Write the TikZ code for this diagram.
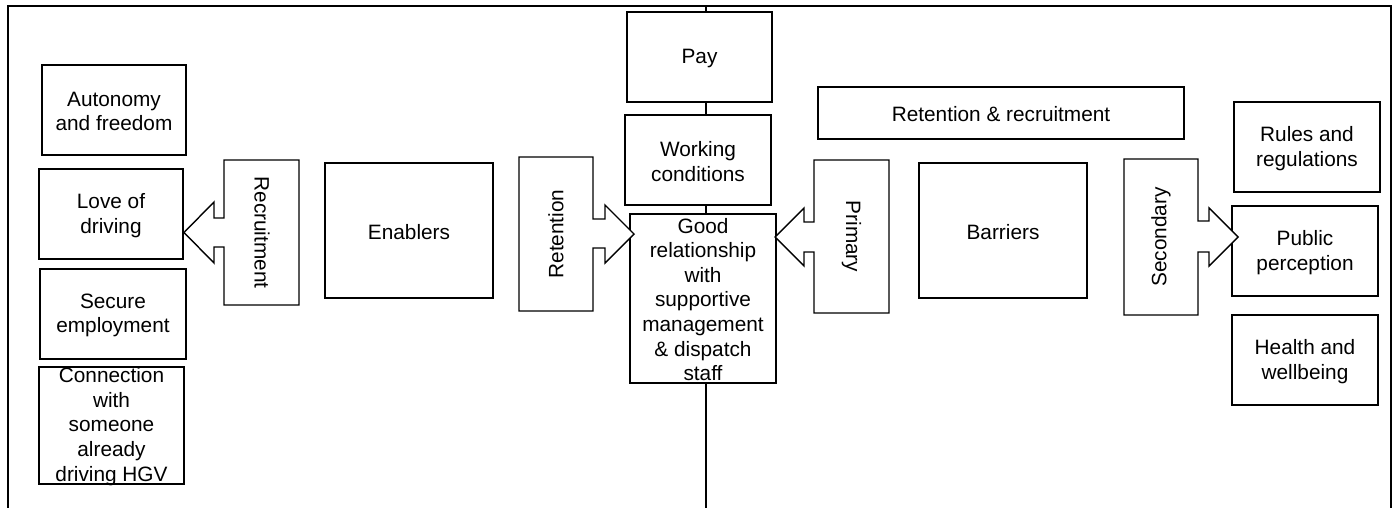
\documentclass[tikz,border=0pt]{standalone}
\usepackage{fontspec}
\setmainfont{Liberation Sans}
\begin{document}
\begin{tikzpicture}[x=1pt,y=-1pt,
  box/.style={draw=black,line width=1.4pt,fill=white,rectangle,inner sep=0pt},
  txt/.style={inner sep=0pt,align=center,font=\fontsize{20.8}{24.6}\selectfont},
  callout/.style={draw=black,line width=1.4pt,line join=miter,fill=white}]
\useasboundingbox (0,0) rectangle (1396,508);
% frame
\coordinate (fbl) at (8,508);
\coordinate (ftl) at (8,6);
\coordinate (ftr) at (1391,6);
\coordinate (fbr) at (1391,508);
\draw[line width=1.4pt] (fbl) -- (ftl) -- (ftr) -- (fbr);
\coordinate (ctop) at (706,6);
\coordinate (cbot) at (706,508);
% left column
\node[box,minimum width=144pt,minimum height=90pt] (autonomy) at (114,110) {};
\node[txt] (autonomyT) at ([yshift=-1.5pt]autonomy.center) {Autonomy\\and freedom};
\node[box,minimum width=144pt,minimum height=90pt] (love) at (111,214) {};
\node[txt] (loveT) at ([yshift=-1.5pt]love.center) {Love of\\driving};
\node[box,minimum width=146pt,minimum height=90pt] (secure) at (113,314) {};
\node[txt] (secureT) at ([yshift=-1.5pt]secure.center) {Secure\\employment};
\node[box,minimum width=145pt,minimum height=117pt] (conn) at (111.5,425.5) {};
\node[txt] (connT) at ([yshift=-1pt]conn.center) {Connection\\with\\someone\\already\\driving HGV};
% enablers
\node[box,minimum width=168pt,minimum height=135pt] (enablers) at (409,230.5) {};
\node[txt] (enablersT) at ([yshift=-1.5pt]enablers.center) {Enablers};
% centre column
\node[box,minimum width=145pt,minimum height=90pt] (pay) at (699.5,57) {};
\node[txt] (payT) at ([yshift=-1.5pt]pay.center) {Pay};
\node[box,minimum width=146pt,minimum height=90pt] (work) at (698,160) {};
\node[txt] (workT) at ([yshift=-1.5pt]work.center) {Working\\conditions};
\node[box,minimum width=146pt,minimum height=169pt] (good) at (703,298.5) {};
\node[txt] (goodT) at ([yshift=-1pt]good.center) {Good\\relationship\\with\\supportive\\management\\\& dispatch\\staff};
\draw[line width=1.4pt] (ctop) -- (ctop |- pay.north);
\draw[line width=1.4pt] (pay.south -| ctop) -- (work.north -| ctop);
\draw[line width=1.4pt] (work.south -| ctop) -- (good.north -| ctop);
\draw[line width=1.4pt] (good.south -| ctop) -- (cbot);
% right side
\node[box,minimum width=366pt,minimum height=52pt] (retrec) at (1001,113) {};
\node[txt] (retrecT) at ([yshift=-1.5pt]retrec.center) {Retention \& recruitment};
\node[box,minimum width=168pt,minimum height=135pt] (barriers) at (1003,230.5) {};
\node[txt] (barriersT) at ([yshift=-1.5pt]barriers.center) {Barriers};
\node[box,minimum width=146pt,minimum height=90pt] (rules) at (1307,147) {};
\node[txt] (rulesT) at ([yshift=-1.5pt]rules.center) {Rules and\\regulations};
\node[box,minimum width=146pt,minimum height=90pt] (public) at (1305,251) {};
\node[txt] (publicT) at ([yshift=-1.5pt]public.center) {Public\\perception};
\node[box,minimum width=146pt,minimum height=90pt] (health) at (1305,360) {};
\node[txt] (healthT) at ([yshift=-1.5pt]health.center) {Health and\\wellbeing};
% callout arrows
\draw[callout] (299,160) -- (224,160) -- (224,218) -- (214,218) -- (214,202) -- (184,232.5) -- (214,263) -- (214,247) -- (224,247) -- (224,305) -- (299,305) -- cycle;
\node[txt,rotate=-90] (recruitT) at (262,232.5) {Recruitment};
\draw[callout] (519,157) -- (593,157) -- (593,219) -- (605,219) -- (605,205) -- (634,234) -- (605,263) -- (605,248) -- (593,248) -- (593,311) -- (519,311) -- cycle;
\node[txt,rotate=90] (retentionT) at (556,234) {Retention};
\draw[callout] (889,160) -- (814,160) -- (814,222) -- (804,222) -- (804,208) -- (775,237) -- (804,266) -- (804,252) -- (814,252) -- (814,313) -- (889,313) -- cycle;
\node[txt,rotate=-90] (primaryT) at (851.5,236.5) {Primary};
\draw[callout] (1124,159) -- (1198,159) -- (1198,221) -- (1209,221) -- (1209,208) -- (1238,237) -- (1209,266) -- (1209,252) -- (1198,252) -- (1198,315) -- (1124,315) -- cycle;
\node[txt,rotate=90] (secondaryT) at (1161,237) {Secondary};
\end{tikzpicture}
\end{document}
